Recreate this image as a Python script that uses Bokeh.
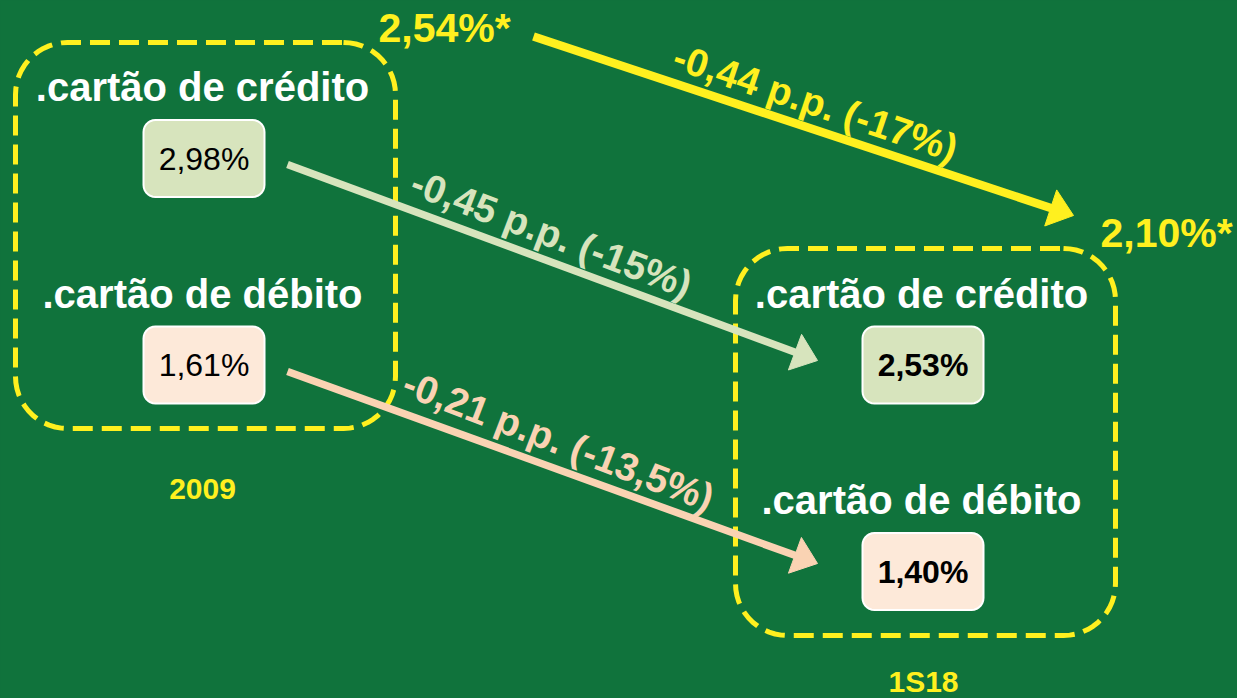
import numpy as np
from bokeh.plotting import figure
from bokeh.models import Range1d, GlobalInlineStyleSheet
from bokeh.embed import file_html
from bokeh.resources import INLINE
from bokeh.core.properties import value

# ---------------- data ----------------
categories = [".cartão de crédito", ".cartão de débito"]
periods = ["2009", "1S18"]
rate_2009 = [2.98, 1.61]
rate_1s18 = [2.53, 1.40]
change_pp = [-0.45, -0.21]
change_pct = [-15, -13.5]
total_rate = [2.54, 2.10]          # 2009, 1S18 (marked with *)
total_change_pp = -0.44
total_change_pct = -17


def pct(v):
    return f"{v:.2f}".replace(".", ",") + "%"


def change_label(pp, pc):
    return f"{pp:.2f}".replace(".", ",") + " p.p. (" + f"{pc:g}".replace(".", ",") + "%)"


# ---------------- styles / layout ----------------
BG = "#10733c"
YEL = "#fff01f"
LGREEN = "#d7e4bd"
PEACH = "#fad3b3"
PEACH_BOX = "#fde9d9"
FONT = value("Liberation Sans")

W, H = 1237, 698
p = figure(width=W, height=H, x_range=Range1d(0, W), y_range=Range1d(H, 0),
           output_backend="svg", toolbar_location=None, x_axis_type=None, y_axis_type=None,
           min_border=0, background_fill_color=BG, border_fill_color=BG,
           outline_line_color=None)
p.grid.visible = False
p.stylesheets = [GlobalInlineStyleSheet(css="body{background:%s;overflow:hidden;}" % BG)]


def rrect(x0, y0, x1, y1, r, n=14):
    xs, ys = [], []
    corners = [(x1 - r, y0 + r, -np.pi / 2, 0.0),
               (x1 - r, y1 - r, 0.0, np.pi / 2),
               (x0 + r, y1 - r, np.pi / 2, np.pi),
               (x0 + r, y0 + r, np.pi, 1.5 * np.pi)]
    for cx, cy, a0, a1 in corners:
        t = np.linspace(a0, a1, n)
        xs.extend(cx + r * np.cos(t))
        ys.extend(cy + r * np.sin(t))
    xs.append(xs[0]); ys.append(ys[0])
    return xs, ys


# dashed group frames
groups = [(15, 42, 395, 428), (735, 248, 1115, 635)]
for g in groups:
    gx, gy = rrect(*g, 52)
    p.line(gx, gy, line_color=YEL, line_width=5, line_dash="20 9")

# arrows
def arrow(start, tip, color, width, hl=24, hw=38):
    sx, sy = start
    tx, ty = tip
    d = np.array([tx - sx, ty - sy], dtype=float)
    L = np.hypot(*d)
    u = d / L
    nrm = np.array([-u[1], u[0]])
    bx, by = tx - hl * u[0], ty - hl * u[1]
    ex, ey = tx - 0.6 * hl * u[0], ty - 0.6 * hl * u[1]
    p.segment(x0=[sx], y0=[sy], x1=[ex], y1=[ey], line_color=color, line_width=width)
    p.patch([tx, bx + hw / 2 * nrm[0], bx - hw / 2 * nrm[0]],
            [ty, by + hw / 2 * nrm[1], by - hw / 2 * nrm[1]],
            fill_color=color, line_color=color, line_width=1)


arrow((287, 164), (817, 360), LGREEN, 7.5)
arrow((287, 371), (817, 563), PEACH, 7.5)
arrow((533, 36), (1073, 215), YEL, 8.5)

# value boxes
box_w, box_h = 121, 77
col_x = [203.5, 922.5]
box_y = [[158, 364.5], [364.5, 571]]
label_y = [[86, 293], [293, 499]]
label_x = [202, 921]
fills = [LGREEN, PEACH_BOX]
rates = [rate_2009, rate_1s18]

for c in range(2):
    xs_l, ys_l = [], []
    for r in range(2):
        bx, by = rrect(col_x[c] - box_w / 2, box_y[c][r] - box_h / 2,
                       col_x[c] + box_w / 2, box_y[c][r] + box_h / 2, 12, 8)
        xs_l.append(bx); ys_l.append(by)
    p.patches(xs_l, ys_l, fill_color=fills, line_color="white", line_width=2)
    p.text(x=[col_x[c]] * 2, y=box_y[c], text=[pct(v) for v in rates[c]],
           text_font=FONT, text_font_size="32px",
           text_font_style="normal" if c == 0 else "bold",
           text_align="center", text_baseline="middle", text_color="black")
    p.text(x=[label_x[c]] * 2, y=label_y[c], text=categories,
           text_font=FONT, text_font_size="40px", text_font_style="bold",
           text_align="center", text_baseline="middle", text_color="white")

# period labels
p.text(x=[202, 923], y=[488, 681], text=periods, text_font=FONT, text_font_size="30px",
       text_font_style="bold", text_align="center", text_baseline="middle",
       text_color=YEL)

# totals
p.text(x=[378, 1100], y=[27.5, 232.5], text=[pct(v) + "*" for v in total_rate],
       text_font=FONT, text_font_size="41px", text_font_style="bold",
       text_align="left", text_baseline="middle", text_color=YEL)

# change labels along arrows
lab_x = [815, 551, 558]
lab_y = [102, 233, 440]
lab_ang = [-np.radians(18.5), -np.radians(20.8), -np.radians(21.0)]
lab_txt = [change_label(total_change_pp, total_change_pct)] + \
          [change_label(a, b) for a, b in zip(change_pp, change_pct)]
lab_col = [YEL, LGREEN, PEACH]
p.text(x=lab_x, y=lab_y, text=lab_txt, angle=lab_ang, text_color=lab_col,
       text_font=FONT, text_font_size="39px", text_font_style="bold",
       text_align="center", text_baseline="middle")

open("out.html", "w").write(file_html(p, INLINE))
